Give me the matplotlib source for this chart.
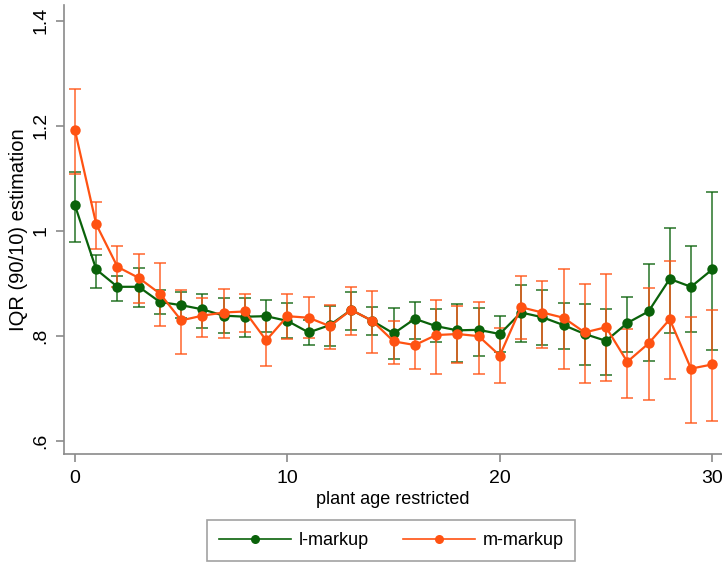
import numpy as np
import matplotlib
matplotlib.use("Agg")
import matplotlib.pyplot as plt
from matplotlib.lines import Line2D

plt.rcParams['font.family'] = ['Liberation Sans', 'DejaVu Sans']

# plant age restriction (years)
age = list(range(31))

# l-markup: point estimate and 95% interval
l_mean = [1.048, 0.926, 0.893, 0.893, 0.864, 0.858, 0.850, 0.838, 0.836, 0.837,
          0.828, 0.806, 0.820, 0.849, 0.828, 0.804, 0.832, 0.818, 0.810, 0.811,
          0.803, 0.844, 0.835, 0.820, 0.803, 0.790, 0.824, 0.846, 0.908, 0.893, 0.926]
l_lo = [0.978, 0.891, 0.865, 0.855, 0.842, 0.833, 0.815, 0.805, 0.798, 0.807,
        0.795, 0.783, 0.780, 0.811, 0.802, 0.755, 0.794, 0.788, 0.750, 0.761,
        0.768, 0.788, 0.783, 0.775, 0.744, 0.724, 0.769, 0.751, 0.804, 0.807, 0.773]
l_hi = [1.111, 0.953, 0.914, 0.928, 0.886, 0.883, 0.879, 0.871, 0.872, 0.867,
        0.863, 0.829, 0.856, 0.884, 0.855, 0.853, 0.864, 0.850, 0.861, 0.852,
        0.837, 0.897, 0.886, 0.862, 0.860, 0.851, 0.874, 0.936, 1.006, 0.971, 1.074]

# m-markup: point estimate and 95% interval
m_mean = [1.191, 1.012, 0.931, 0.910, 0.880, 0.829, 0.838, 0.844, 0.846, 0.791,
          0.837, 0.834, 0.818, 0.849, 0.828, 0.789, 0.782, 0.801, 0.803, 0.799,
          0.762, 0.854, 0.844, 0.834, 0.806, 0.816, 0.750, 0.785, 0.831, 0.737, 0.745]
m_lo = [1.108, 0.965, 0.892, 0.862, 0.818, 0.765, 0.798, 0.796, 0.807, 0.742,
        0.793, 0.795, 0.775, 0.801, 0.767, 0.746, 0.736, 0.727, 0.748, 0.726,
        0.710, 0.793, 0.776, 0.737, 0.709, 0.713, 0.682, 0.677, 0.717, 0.634, 0.638]
m_hi = [1.270, 1.054, 0.970, 0.956, 0.938, 0.887, 0.871, 0.888, 0.879, 0.838,
        0.879, 0.873, 0.859, 0.893, 0.885, 0.827, 0.827, 0.867, 0.857, 0.864,
        0.815, 0.914, 0.905, 0.927, 0.899, 0.918, 0.813, 0.891, 0.943, 0.835, 0.849]

yticks = [0.6, 0.8, 1.0, 1.2, 1.4]
ytick_labels = ['.6', '.8', '1', '1.2', '1.4']
xticks = [0, 10, 20, 30]

green = '#0a620a'
orange = '#ff5212'
axis_gray = '#8a8a8a'

fig = plt.figure(figsize=(7.22, 5.62), dpi=100)
ax = fig.add_axes([0.088, 0.193, 0.912, 0.798])

series = [
    (l_mean, l_lo, l_hi, green, 'l-markup'),
    (m_mean, m_lo, m_hi, orange, 'm-markup'),
]

for mean, lo, hi, col, name in series:
    mean = np.array(mean)
    err = [mean - np.array(lo), np.array(hi) - mean]
    ax.errorbar(age, mean, yerr=err, fmt='none', ecolor=col, alpha=0.75,
                elinewidth=1.3, capsize=4.5, capthick=1.3, zorder=2)

for mean, lo, hi, col, name in series:
    ax.plot(age, mean, color=col, lw=1.6, marker='o', ms=7.5,
            markeredgewidth=0, zorder=3, label=name)

ax.set_xlim(-0.54, 30.46)
ax.set_ylim(0.5752, 1.430)
ax.set_xticks(xticks)
ax.set_xticklabels([str(t) for t in xticks])
ax.set_yticks(yticks)
ax.set_yticklabels(ytick_labels, rotation=90, va='center')

for side in ['top', 'right']:
    ax.spines[side].set_visible(False)
for side in ['left', 'bottom']:
    ax.spines[side].set_color(axis_gray)
    ax.spines[side].set_linewidth(1.2)
ax.tick_params(axis='both', colors=axis_gray, length=6, width=1.2,
               labelcolor='black', labelsize=14)
ax.tick_params(axis='x', pad=6)
ax.tick_params(axis='y', pad=4)

ax.set_xlabel('plant age restricted', fontsize=13, labelpad=3)
ax.set_ylabel('IQR (90/10) estimation', fontsize=14.5, labelpad=3)

handles = [
    Line2D([], [], color=green, lw=1.2, marker='o', ms=6.5, markeredgewidth=0),
    Line2D([], [], color=orange, lw=1.2, marker='o', ms=6.5, markeredgewidth=0),
]
leg = fig.legend(handles, ['l-markup', 'm-markup'], loc='lower center',
                 bbox_to_anchor=(0.542, 0.002), ncol=2, fontsize=13,
                 frameon=True, fancybox=False, edgecolor=axis_gray,
                 handlelength=4.0, columnspacing=1.9, handletextpad=0.4,
                 borderpad=0.65, borderaxespad=0)
leg.get_frame().set_linewidth(1.2)

fig.savefig('out.png', dpi=100)
